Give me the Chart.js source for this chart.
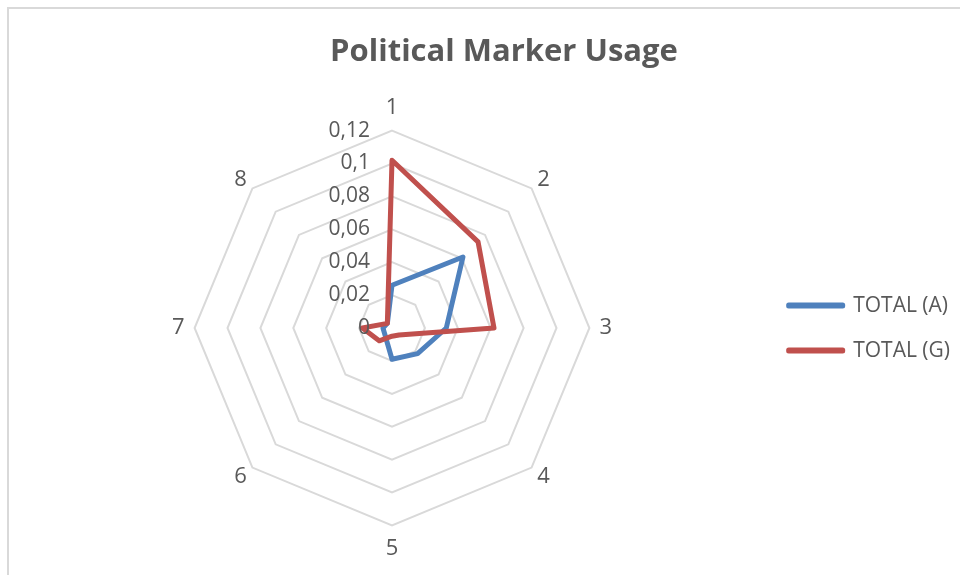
<!DOCTYPE html>
<html>
<head>
<meta charset="utf-8">
<script src="https://cdn.jsdelivr.net/npm/chart.js@4"></script>
<style>
  html, body { margin: 0; padding: 0; background: #ffffff; overflow: hidden; width: 960px; height: 575px; }
  #frame { position: absolute; left: 7px; top: 7px; border-left: 2px solid #d9d9d9; border-top: 2px solid #d9d9d9; }
  canvas { display: block; }
</style>
</head>
<body>
<div id="frame"><canvas id="c" width="951" height="566"></canvas></div>
<script>
const categories = ['1', '2', '3', '4', '5', '6', '7', '8'];
const totalA = [0.026, 0.061, 0.033, 0.022, 0.019, 0.006, 0.0055, 0.004];
const totalG = [0.102, 0.074, 0.062, 0.006, 0.005, 0.011, 0.018, 0.004];
const tickLabels = ['0', '0,02', '0,04', '0,06', '0,08', '0,1', '0,12'];
const seriesNames = ['TOTAL (A)', 'TOTAL (G)'];

const FONT = "'Open Sans', 'DejaVu Sans', sans-serif";
const TEXT = '#595959';

const tickLabelPlugin = {
  id: 'leftTickLabels',
  afterDatasetsDraw(chart) {
    const scale = chart.scales.r;
    const ctx = chart.ctx;
    ctx.save();
    ctx.font = "21px " + FONT;
    ctx.fillStyle = TEXT;
    ctx.textAlign = 'right';
    ctx.textBaseline = 'middle';
    scale.ticks.forEach(t => {
      const p = scale.getPointPositionForValue(0, t.value);
      ctx.fillText(t.label, p.x - 22, p.y);
    });
    ctx.restore();
  }
};

new Chart(document.getElementById('c'), {
  type: 'radar',
  data: {
    labels: categories,
    datasets: [
      { label: seriesNames[0], data: totalA, borderColor: '#4F81BD', backgroundColor: '#4F81BD',
        borderWidth: 5, borderJoinStyle: 'round', fill: false, pointRadius: 0, pointHoverRadius: 0, order: 1 },
      { label: seriesNames[1], data: totalG, borderColor: '#C0504D', backgroundColor: '#C0504D',
        borderWidth: 5, borderJoinStyle: 'round', fill: false, pointRadius: 0, pointHoverRadius: 0, order: 0 }
    ]
  },
  options: {
    responsive: false,
    animation: false,
    layout: { padding: { left: 39, right: 0, top: 0, bottom: 13 } },
    plugins: {
      title: {
        display: true, text: 'Political Marker Usage', color: TEXT,
        font: { family: FONT, size: 31, weight: 'bold' },
        padding: { top: 25, bottom: 23 }
      },
      legend: {
        position: 'right',
        fullSize: false,
        labels: {
          color: TEXT, font: { family: FONT, size: 21 },
          boxWidth: 54, boxHeight: 1, padding: 24,
          sort: (a, b) => a.datasetIndex - b.datasetIndex
        }
      },
      tooltip: { enabled: false }
    },
    scales: {
      r: {
        min: 0, max: 0.12,
        ticks: { stepSize: 0.02, display: false, callback: (v, i) => tickLabels[i] },
        grid: { color: '#d9d9d9', lineWidth: 2 },
        angleLines: { display: false },
        pointLabels: {
          color: TEXT,
          font: (ctx) => ({ family: FONT, size: 22, lineHeight: ctx.index % 2 === 0 ? 1.2 : 0.3 }),
          padding: (ctx) => (ctx.index % 2 === 0 ? 10 : 8)
        },
        afterSetDimensions: (scale) => { scale.xCenter -= 14; }
      }
    }
  },
  plugins: [tickLabelPlugin]
});
</script>
</body>
</html>
